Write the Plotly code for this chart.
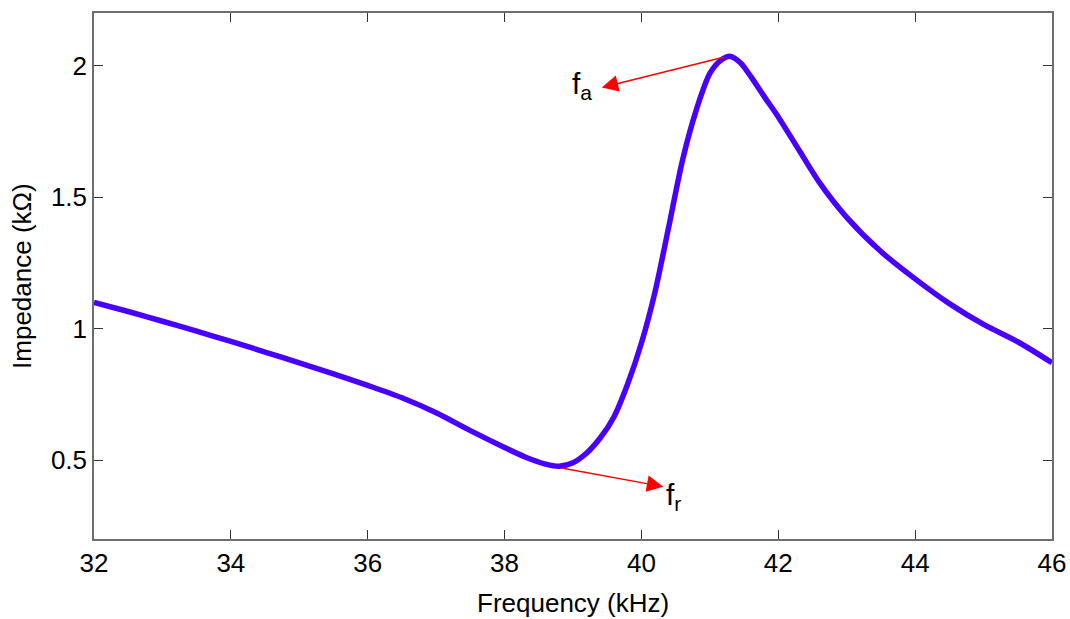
import plotly.graph_objects as go

freq_khz = [32.0, 32.5, 33.0, 33.5, 34.0, 34.5, 35.0, 35.5, 36.0, 36.5, 37.0, 37.5,
            38.0, 38.3, 38.6, 38.8, 39.0, 39.2, 39.4, 39.6, 39.8, 40.0, 40.2, 40.4,
            40.6, 40.8, 41.0, 41.15, 41.3, 41.45, 41.6, 41.8, 42.0, 42.3, 42.6, 43.0,
            43.5, 44.0, 44.5, 45.0, 45.5, 46.0]
impedance_kohm = [1.100, 1.065, 1.028, 0.990, 0.951, 0.911, 0.870, 0.828, 0.784, 0.737,
                  0.680, 0.612, 0.548, 0.512, 0.485, 0.477, 0.490, 0.527, 0.585, 0.665,
                  0.790, 0.945, 1.141, 1.388, 1.640, 1.830, 1.970, 2.018, 2.035, 2.010,
                  1.958, 1.880, 1.805, 1.680, 1.556, 1.423, 1.293, 1.189, 1.095, 1.016,
                  0.950, 0.870]

x_ticks = [32, 34, 36, 38, 40, 42, 44, 46]
y_ticks = [0.5, 1, 1.5, 2]
y_tick_labels = ["0.5", "1", "1.5", "2"]

# annotation points: (tail, head)
fa_tail = (41.22, 2.033)
fa_head = (39.42, 1.917)
fr_tail = (38.81, 0.471)
fr_head = (40.32, 0.399)

FONT = "Liberation Sans, Arial, sans-serif"

fig = go.Figure()
fig.add_trace(go.Scatter(
    x=freq_khz, y=impedance_kohm, mode="lines",
    line=dict(color="rgb(72,0,255)", width=5.5, shape="spline", smoothing=0.8),
    showlegend=False, hoverinfo="skip"))

for tail, head in [(fa_tail, fa_head), (fr_tail, fr_head)]:
    fig.add_annotation(x=head[0], y=head[1], ax=tail[0], ay=tail[1],
                       xref="x", yref="y", axref="x", ayref="y",
                       text="", showarrow=True, arrowhead=2, arrowsize=2.2,
                       arrowwidth=1.5, arrowcolor="red")

fig.add_annotation(x=39.3, y=1.925, xref="x", yref="y", text="f<sub>a</sub>",
                   showarrow=False, xanchor="right", yanchor="middle",
                   font=dict(family=FONT, size=30, color="black"))
fig.add_annotation(x=40.33, y=0.36, xref="x", yref="y", text="f<sub>r</sub>",
                   showarrow=False, xanchor="left", yanchor="middle",
                   font=dict(family=FONT, size=30, color="black"))

# axis titles
fig.add_annotation(x=0.5, y=-0.122, xref="paper", yref="paper", text="Frequency (kHz)",
                   showarrow=False, xanchor="center", yanchor="middle",
                   font=dict(family=FONT, size=26, color="black"))
fig.add_annotation(x=-0.0752, y=0.5, xref="paper", yref="paper", text="Impedance (kΩ)",
                   showarrow=False, xanchor="center", yanchor="middle", textangle=-90,
                   font=dict(family=FONT, size=26, color="black"))

axis_common = dict(showline=True, linecolor="#6e6e6e", linewidth=1.5, mirror="ticks",
                   ticks="inside", ticklen=9, tickwidth=1.2, tickcolor="#333333",
                   showgrid=False, zeroline=False, automargin=False,
                   tickfont=dict(family=FONT, size=26, color="black"))

fig.update_xaxes(range=[32, 46], tickvals=x_ticks, ticktext=[str(v) for v in x_ticks],
                 **axis_common)
fig.update_yaxes(range=[0.2, 2.2], tickvals=y_ticks, ticktext=y_tick_labels,
                 **axis_common)

fig.update_layout(width=1070, height=619, margin=dict(l=94, r=18, t=13, b=80),
                  plot_bgcolor="white", paper_bgcolor="white")

fig.write_html("out.html", config={"displayModeBar": False},
               post_script="document.body.style.margin='0';document.body.style.overflow='hidden';")
